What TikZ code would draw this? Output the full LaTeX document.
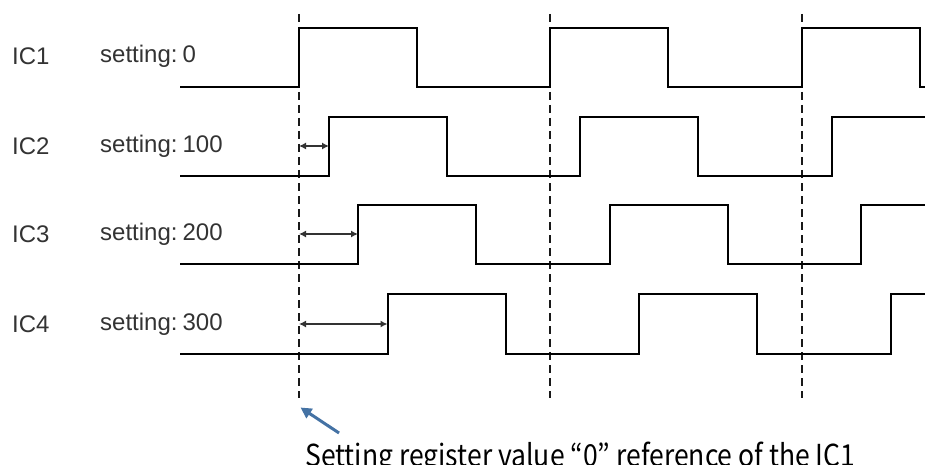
\documentclass[tikz,border=0pt]{standalone}
\usepackage{fontspec}
\setmainfont{Liberation Sans}
\newfontfamily\jpfont{Noto Sans CJK JP}
\usetikzlibrary{arrows.meta}
\definecolor{arrowblue}{HTML}{4472A4}
\definecolor{lblgray}{HTML}{333333}
\begin{document}
\begin{tikzpicture}[x=1pt,y=-1pt,
  sig/.style={line width=2pt, line join=miter, black},
  refline/.style={line width=2pt, dash pattern=on 8pt off 5pt, black!90},
  delay/.style={line width=1.3pt, black!80, {Latex[length=7pt,width=7pt]}-{Latex[length=7pt,width=7pt]}},
  lbl/.style={font=\fontsize{24}{26}\selectfont, text=lblgray, inner sep=0pt, anchor=west}]
\useasboundingbox (0,0) rectangle (925,465);
% reference lines
\draw[refline] (299,14) -- (299,398);
\draw[refline] (550,14) -- (550,398);
\draw[refline] (802,14) -- (802,398);
% signals
\draw[sig] (180,87) -| (299,28) -| (417,87) -| (550,28) -| (668,87) -| (802,28) -| (920,87) -- (925,87);
\draw[sig] (180,176) -| (329,117) -| (447,176) -| (580,117) -| (698,176) -| (832,117) -- (925,117);
\draw[sig] (180,264) -| (358,205) -| (476,264) -| (609.5,205) -| (727.5,264) -| (861,205) -- (925,205);
\draw[sig] (180,354) -| (387.5,294) -| (505.5,354) -| (639,294) -| (757,354) -| (890.5,294) -- (925,294);
% labels
\node[lbl] (ic1) at (12,56) {IC1};
\node[lbl] (ic2) at (12,146) {IC2};
\node[lbl] (ic3) at (12,234) {IC3};
\node[lbl] (ic4) at (12,324) {IC4};
\node[lbl] (s1) at (100,56) {setting:\hspace{5pt}0};
\node[lbl] (s2) at (100,146) {setting:\hspace{5pt}100};
\node[lbl] (s3) at (100,234) {setting:\hspace{5pt}200};
\node[lbl] (s4) at (100,324) {setting:\hspace{5pt}300};
% delay arrows
\coordinate (d2a) at (299,146); \coordinate (d2b) at (329,146);
\coordinate (d3a) at (299,234); \coordinate (d3b) at (358,234);
\coordinate (d4a) at (299,324); \coordinate (d4b) at (387.5,324);
\draw[delay] (d2a) -- (d2b);
\draw[delay] (d3a) -- (d3b);
\draw[delay] (d4a) -- (d4b);
% annotation
\coordinate (tail) at (339,433);
\coordinate (tip) at (300.5,407.5);
\draw[arrowblue, line width=3pt, -{Triangle[length=11pt,width=11pt]}] (tail) -- (tip);
\node[anchor=base west, inner sep=0pt] (note) at (305,466) {\resizebox{550pt}{24.5pt}{\jpfont Setting register value “0” reference of the IC1}};
\end{tikzpicture}
\end{document}
